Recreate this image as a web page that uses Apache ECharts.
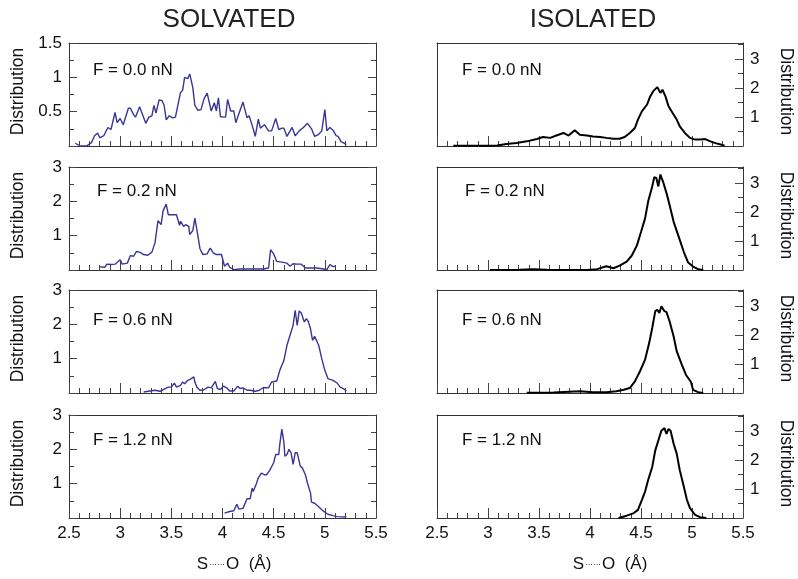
<!DOCTYPE html>
<html>
<head>
<meta charset="utf-8">
<title>S...O distribution</title>
<script src="https://cdn.jsdelivr.net/npm/echarts@6/dist/echarts.min.js"></script>
<style>
  html, body { margin: 0; padding: 0; background: #fff; }
  #main { width: 798px; height: 579px; }
</style>
</head>
<body>
<div id="main"></div>
<script>
// ---- data ----
var forces = ['F = 0.0 nN', 'F = 0.2 nN', 'F = 0.6 nN', 'F = 1.2 nN'];
var xTicks = [2.5, 3, 3.5, 4, 4.5, 5, 5.5];

// SOLVATED (left column)
var solvX0 = [2.56,2.61,2.67,2.72,2.75,2.78,2.80,2.84,2.88,2.91,2.95,2.97,3.00,3.03,3.08,3.10,3.13,3.15,3.19,3.25,3.28,3.31,3.33,3.35,3.38,3.41,3.43,3.45,3.48,3.51,3.54,3.59,3.61,3.63,3.66,3.68,3.71,3.73,3.76,3.79,3.82,3.85,3.87,3.89,3.92,3.94,3.96,3.98,4.01,4.03,4.05,4.08,4.11,4.13,4.16,4.20,4.24,4.26,4.29,4.32,4.35,4.37,4.41,4.45,4.48,4.52,4.55,4.58,4.60,4.63,4.68,4.71,4.75,4.79,4.83,4.87,4.90,4.94,4.97,5.00,5.02,5.05,5.08,5.11,5.13,5.16,5.18,5.21];
var solvY0 = [0.04,0,0,0.05,0.15,0.19,0.12,0.15,0.27,0.24,0.49,0.34,0.40,0.31,0.55,0.55,0.46,0.42,0.57,0.33,0.42,0.44,0.59,0.48,0.67,0.66,0.59,0.38,0.44,0.41,0.42,0.78,0.81,1.00,0.98,1.05,0.85,0.59,0.52,0.53,0.69,0.77,0.64,0.51,0.63,0.51,0.70,0.43,0.42,0.42,0.68,0.51,0.51,0.34,0.47,0.64,0.41,0.44,0.30,0.14,0.39,0.26,0.31,0.22,0.22,0.40,0.24,0.26,0.26,0.14,0.27,0.15,0.22,0.27,0.33,0.25,0.14,0.17,0.22,0.53,0.22,0.27,0.23,0.15,0.14,0.06,0.05,0.02];

var solvX1 = [2.80,2.85,2.87,2.91,2.95,3.00,3.02,3.07,3.10,3.13,3.16,3.19,3.23,3.27,3.31,3.34,3.37,3.40,3.42,3.45,3.47,3.52,3.55,3.58,3.59,3.62,3.64,3.67,3.68,3.71,3.73,3.75,3.78,3.81,3.85,3.88,3.91,3.94,3.99,4.02,4.05,4.07,4.11,4.17,4.24,4.30,4.40,4.45,4.47,4.50,4.53,4.58,4.63,4.66,4.69,4.73,4.77,4.81,4.86,4.92,4.99,5.02,5.05,5.08,5.10];
var solvY1 = [0.09,0.08,0.17,0.16,0.17,0.30,0.17,0.20,0.42,0.40,0.54,0.52,0.45,0.43,0.52,0.79,1.44,1.32,1.73,1.92,1.61,1.61,1.61,1.30,1.42,1.27,1.32,1.27,1.03,1.15,1.51,1.17,0.62,0.45,0.47,0.64,0.50,0.45,0.45,0.11,0.20,0.08,0.01,0.03,0.03,0.03,0.03,0.06,0.59,0.47,0.25,0.23,0.20,0.11,0.18,0.17,0.17,0.06,0.06,0.06,0.03,0.01,0.16,0.10,0.11];

var solvX2 = [3.23,3.29,3.34,3.39,3.44,3.47,3.50,3.53,3.55,3.59,3.61,3.63,3.66,3.68,3.72,3.73,3.75,3.78,3.81,3.86,3.89,3.93,3.95,3.98,4.01,4.04,4.07,4.11,4.15,4.17,4.20,4.24,4.27,4.32,4.36,4.40,4.45,4.48,4.53,4.56,4.60,4.63,4.66,4.69,4.71,4.73,4.75,4.77,4.80,4.82,4.84,4.86,4.88,4.90,4.94,4.97,5.00,5.03,5.08,5.12,5.15,5.18,5.21];
var solvY2 = [0.03,0.06,0.08,0.05,0.13,0.17,0.17,0.29,0.17,0.22,0.32,0.27,0.37,0.39,0.47,0.32,0.17,0.08,0.08,0.17,0.15,0.34,0.13,0.10,0.20,0.15,0.06,0.06,0.20,0.13,0.15,0.08,0.08,0.05,0.08,0.16,0.15,0.32,0.35,0.66,0.95,1.39,1.68,1.97,2.41,1.97,2.39,2.33,2.07,2.17,2.07,1.87,1.53,1.65,1.39,1.00,0.66,0.42,0.37,0.29,0.17,0.13,0.06];

var solvX3 = [4.02,4.07,4.11,4.14,4.16,4.20,4.24,4.27,4.29,4.30,4.33,4.35,4.38,4.41,4.43,4.46,4.50,4.52,4.55,4.56,4.58,4.60,4.61,4.63,4.65,4.67,4.69,4.71,4.73,4.76,4.78,4.81,4.83,4.86,4.87,4.90,4.94,4.97,5.00,5.03,5.08,5.12,5.21];
var solvY3 = [0.14,0.19,0.21,0.40,0.26,0.28,0.56,0.56,0.87,0.77,0.99,1.17,1.31,1.26,1.26,1.38,1.61,1.85,1.85,2.15,2.59,2.20,1.80,1.85,2.00,1.90,1.56,1.90,1.90,1.51,1.46,1.26,1.02,0.73,0.46,0.43,0.33,0.24,0.17,0.11,0.07,0.04,0.03];

// ISOLATED (right column)
var isoX0 = [2.66,2.79,2.99,3.09,3.18,3.28,3.38,3.48,3.54,3.61,3.67,3.74,3.79,3.85,3.90,3.97,4.03,4.10,4.16,4.23,4.29,4.34,4.39,4.44,4.47,4.51,4.56,4.59,4.62,4.66,4.69,4.71,4.74,4.77,4.81,4.85,4.88,4.93,4.98,5.03,5.08,5.13,5.18,5.23,5.28,5.32];
var isoY0 = [0.01,0.01,0.01,0.02,0.07,0.10,0.16,0.24,0.31,0.28,0.36,0.45,0.36,0.54,0.39,0.36,0.33,0.31,0.28,0.25,0.25,0.31,0.45,0.62,0.91,1.20,1.43,1.71,1.89,2.03,1.83,1.94,1.71,1.37,1.14,0.91,0.68,0.45,0.28,0.22,0.22,0.24,0.16,0.10,0.05,0.01];

var isoX1 = [3.02,3.18,3.31,3.44,3.58,3.71,3.97,4.07,4.16,4.23,4.29,4.36,4.41,4.46,4.50,4.54,4.57,4.61,4.63,4.65,4.67,4.69,4.72,4.75,4.78,4.82,4.87,4.92,4.96,5.01,5.06,5.11];
var isoY1 = [0,0,0.01,0.03,0.01,0,0,0.03,0.13,0.06,0.15,0.29,0.50,0.85,1.31,1.78,2.36,2.88,3.20,3.17,2.88,3.29,3.00,2.65,2.24,1.66,1.14,0.62,0.27,0.12,0.03,0];

var isoX2 = [3.38,3.64,3.90,4.03,4.16,4.26,4.33,4.39,4.44,4.49,4.54,4.58,4.61,4.64,4.66,4.68,4.70,4.73,4.75,4.78,4.82,4.85,4.90,4.94,4.99,5.01,5.06,5.11];
var isoY2 = [0.01,0.02,0.06,0.03,0.03,0.06,0.11,0.17,0.40,0.75,1.15,1.72,2.24,2.82,2.87,2.76,2.99,2.82,2.79,2.47,1.95,1.44,0.98,0.63,0.38,0.11,0.03,0];

var isoX3 = [4.28,4.36,4.43,4.47,4.51,4.54,4.57,4.61,4.64,4.67,4.70,4.73,4.75,4.77,4.79,4.82,4.85,4.88,4.92,4.95,4.98,5.03,5.08,5.14];
var isoY3 = [0,0.08,0.17,0.28,0.63,0.91,1.31,1.76,2.33,2.67,3.01,3.10,2.90,3.07,3.01,2.56,2.22,1.65,1.08,0.63,0.34,0.11,0.03,0];

var solvX = [solvX0, solvX1, solvX2, solvX3], solvY = [solvY0, solvY1, solvY2, solvY3];
var isoX = [isoX0, isoX1, isoX2, isoX3], isoY = [isoY0, isoY1, isoY2, isoY3];

function zip(xs, ys) {
  var out = [];
  for (var i = 0; i < xs.length; i++) out.push([xs[i], ys[i]]);
  return out;
}

// ---- layout ----
var font = "'Liberation Sans', Arial, sans-serif";
var rowTop = [43, 167, 290, 415];
var rowH = 103;
var colLeft = [69, 437];
var colW = [307, 306];
var lineCol = '#333';

var grids = [], xAxes = [], yAxes = [], series = [], graphics = [];

function addPanel(col, row) {
  var g = grids.length;
  grids.push({ left: colLeft[col], top: rowTop[row], width: colW[col], height: rowH });
  var bottomRow = row === 3;

  // bottom x axis with inward ticks
  var xi = xAxes.length;
  xAxes.push({
    gridIndex: g, type: 'value', position: 'bottom', min: 2.5, max: 5.5, interval: 0.5,
    axisLine: { onZero: false, lineStyle: { color: lineCol, width: 1 } },
    axisTick: { inside: true, length: 10, lineStyle: { color: '#444' } },
    minorTick: { show: true, splitNumber: 5, length: 5, lineStyle: { color: '#444' } },
    axisLabel: { show: bottomRow, margin: 7, color: '#111', fontSize: 17, fontFamily: font,
      formatter: function (v) { return xTicks.indexOf(v) >= 0 ? String(v) : ''; } },
    splitLine: { show: false }
  });
  // top frame line
  xAxes.push({
    gridIndex: g, type: 'value', position: 'top', min: 2.5, max: 5.5,
    axisLine: { onZero: false, lineStyle: { color: lineCol, width: 1 } },
    axisTick: { show: false }, axisLabel: { show: false }, splitLine: { show: false }
  });

  var yi = yAxes.length;
  if (col === 0) {
    var ymax = row === 0 ? 1.5 : 3;
    var step = row === 0 ? 0.5 : 1;
    ['left', 'right'].forEach(function (pos) {
      yAxes.push({
        gridIndex: g, type: 'value', position: pos, min: 0, max: ymax, interval: step,
        axisLine: { onZero: false, lineStyle: { color: lineCol, width: 1 } },
        axisTick: { inside: true, length: 8, lineStyle: { color: '#444' } },
        minorTick: { show: true, splitNumber: 2, length: 5, lineStyle: { color: '#444' } },
        axisLabel: { show: pos === 'left', margin: 7, color: '#111', fontSize: 17, fontFamily: font,
          formatter: function (v) { return v === 0 ? '' : String(v); } },
        splitLine: { show: false }
      });
    });
  } else {
    var imax = 3.55;
    yAxes.push({
      gridIndex: g, type: 'value', position: 'right', min: 0, max: imax, interval: 1,
      axisLine: { onZero: false, lineStyle: { color: lineCol, width: 1 } },
      axisTick: { inside: true, length: 8, lineStyle: { color: '#444' } },
      axisLabel: { margin: 7, color: '#111', fontSize: 17, fontFamily: font,
        formatter: function (v) { return (v > 0 && v === Math.round(v)) ? String(v) : ''; } },
      splitLine: { show: false }
    });
    // half-unit ticks
    yAxes.push({
      gridIndex: g, type: 'value', position: 'right', min: 0, max: imax, interval: 0.5,
      axisLine: { show: false },
      axisTick: { inside: true, length: 5, lineStyle: { color: '#444' } },
      axisLabel: { show: false }, splitLine: { show: false }
    });
    yAxes.push({
      gridIndex: g, type: 'value', position: 'left', min: 0, max: imax,
      axisLine: { onZero: false, lineStyle: { color: lineCol, width: 1 } },
      axisTick: { show: false }, axisLabel: { show: false }, splitLine: { show: false }
    });
  }

  series.push({
    type: 'line', xAxisIndex: xi, yAxisIndex: yi, showSymbol: false, animation: false,
    data: col === 0 ? zip(solvX[row], solvY[row]) : zip(isoX[row], isoY[row]),
    lineStyle: { color: col === 0 ? '#3a3596' : '#000', width: col === 0 ? 1.4 : 2 }
  });
}

for (var r = 0; r < 4; r++) { addPanel(0, r); addPanel(1, r); }

// force labels inside panels
var fLeftX = [93, 97, 93, 93], fRightX = [462, 465, 462, 462];
var fY = [70, 191, 320, 440];
for (var k = 0; k < 4; k++) {
  graphics.push({ type: 'text', x: fLeftX[k], y: fY[k],
    style: { text: forces[k], fill: '#111', font: '17px ' + font, textVerticalAlign: 'middle' } });
  graphics.push({ type: 'text', x: fRightX[k], y: fY[k],
    style: { text: forces[k], fill: '#111', font: '17px ' + font, textVerticalAlign: 'middle' } });
  // "Distribution" side labels
  graphics.push({ type: 'text', x: 18, y: rowTop[k] + rowH / 2 - 3, rotation: Math.PI / 2,
    style: { text: 'Distribution', fill: '#111', font: '17.5px ' + font, textAlign: 'center', textVerticalAlign: 'middle' } });
  graphics.push({ type: 'text', x: 786, y: rowTop[k] + rowH / 2 - 3, rotation: -Math.PI / 2,
    style: { text: 'Distribution', fill: '#111', font: '17.5px ' + font, textAlign: 'center', textVerticalAlign: 'middle' } });
}

var richName = {
  a: { fontSize: 17, fontWeight: 'normal', color: '#111', fontFamily: font },
  d: { fontSize: 8, fontWeight: 'normal', color: '#111', fontFamily: font, verticalAlign: 'middle', padding: [0, 1, 0, 1] }
};
var nameText = '{a|S}{d|\u00b7\u00b7\u00b7\u00b7\u00b7\u00b7}{a|O  (\u00c5)}';

var chart = echarts.init(document.getElementById('main'), null, { renderer: 'canvas' });
chart.setOption({
  backgroundColor: '#fff',
  animation: false,
  title: [
    { text: 'SOLVATED', left: 224, top: 2, textAlign: 'center',
      textStyle: { fontSize: 26, fontWeight: 'normal', color: '#222', fontFamily: font } },
    { text: 'ISOLATED', left: 588, top: 2, textAlign: 'center',
      textStyle: { fontSize: 26, fontWeight: 'normal', color: '#222', fontFamily: font } },
    { text: nameText, left: 229, top: 551, textAlign: 'center',
      textStyle: { fontWeight: 'normal', rich: richName } },
    { text: nameText, left: 605, top: 551, textAlign: 'center',
      textStyle: { fontWeight: 'normal', rich: richName } }
  ],
  grid: grids,
  xAxis: xAxes,
  yAxis: yAxes,
  series: series,
  graphic: graphics
});
</script>
</body>
</html>
